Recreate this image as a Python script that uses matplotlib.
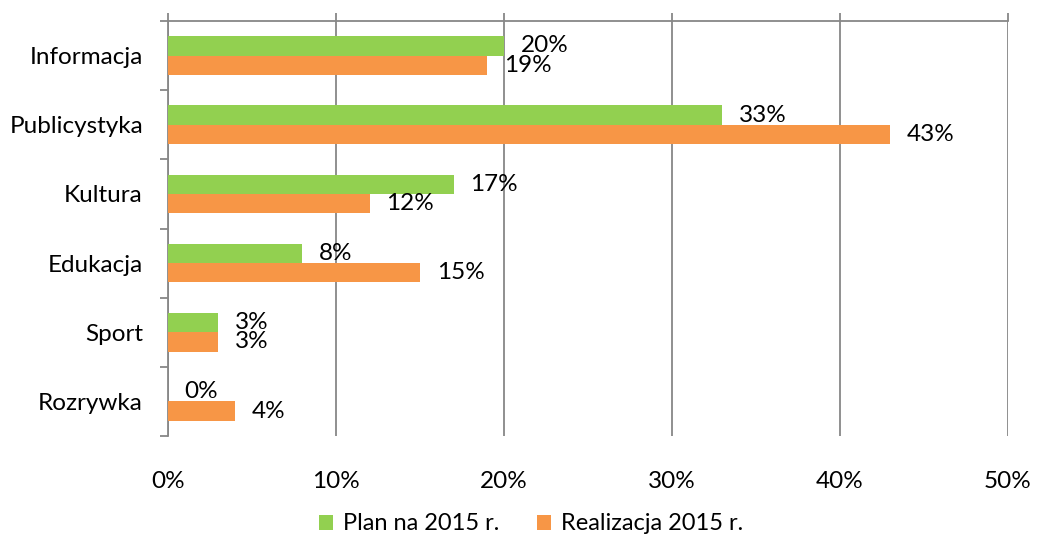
import numpy as np
import matplotlib.pyplot as plt
from matplotlib.ticker import FixedLocator, PercentFormatter

categories = ['Informacja', 'Publicystyka', 'Kultura', 'Edukacja', 'Sport', 'Rozrywka']
plan = [20, 33, 17, 8, 3, 0]
realizacja = [19, 43, 12, 15, 3, 4]
series_names = ['Plan na 2015 r.', 'Realizacja 2015 r.']
xticks = [0, 10, 20, 30, 40, 50]

green = '#92D050'
orange = '#F79646'
grid_col = '#878787'

plt.rcParams['font.family'] = ['Lato', 'DejaVu Sans']
fs = 17.5

fig = plt.figure(figsize=(10.37, 5.4), dpi=100)
ax = fig.add_axes([168 / 1037, 1 - 436 / 540, 840 / 1037, 415 / 540])

y = np.arange(len(categories))
h = 0.28
b1 = ax.barh(y - h / 2, plan, height=h, color=green, label=series_names[0], zorder=3)
b2 = ax.barh(y + h / 2, realizacja, height=h, color=orange, label=series_names[1], zorder=3)

for bars, vals in ((b1, plan), (b2, realizacja)):
    for bar, v in zip(bars, vals):
        ax.annotate(f'{v}%', (bar.get_width(), bar.get_y() + bar.get_height() / 2),
                    xytext=(12, 0), textcoords='offset points',
                    ha='left', va='center', fontsize=fs, color='black', zorder=4)

ax.set_xlim(0, 50)
ax.set_ylim(len(categories) - 0.5, -0.5)
ax.set_xticks(xticks)
ax.xaxis.set_major_formatter(PercentFormatter(decimals=0))
ax.grid(axis='x', color=grid_col, linewidth=1.3, zorder=0)

ax.set_yticks(y)
ax.set_yticklabels(categories, fontsize=fs)
ax.yaxis.set_minor_locator(FixedLocator(np.arange(-0.5, len(categories), 1)))
ax.tick_params(axis='y', which='major', length=0, pad=18)
ax.tick_params(axis='y', which='minor', length=6, width=1.3, color=grid_col)
ax.tick_params(axis='x', which='major', top=True, bottom=False, labeltop=False,
               labelbottom=True, length=6, width=1.3, color=grid_col,
               labelsize=fs, pad=19)

for s in ('right', 'bottom'):
    ax.spines[s].set_visible(False)
for s in ('top', 'left'):
    ax.spines[s].set_color(grid_col)
    ax.spines[s].set_linewidth(1.3)

fig.legend(handles=[b1, b2], loc='center', bbox_to_anchor=(531 / 1037, 1 - 524 / 540),
           ncol=2, frameon=False, fontsize=17, handlelength=0.6, handleheight=0.6,
           handletextpad=0.4, columnspacing=1.6)

fig.savefig('out.png', dpi=100)
